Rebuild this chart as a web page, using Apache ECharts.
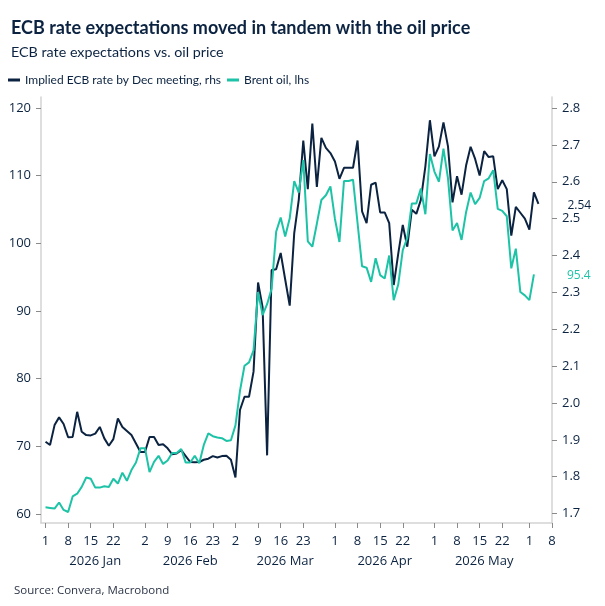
<!DOCTYPE html>
<html>
<head>
<meta charset="utf-8">
<script src="https://cdn.jsdelivr.net/npm/echarts@6/dist/echarts.min.js"></script>
<style>
  html, body { margin: 0; padding: 0; background: #fff; }
  #chart { width: 605px; height: 606px; }
</style>
</head>
<body>
<div id="chart"></div>
<script>
// x axis: business days, 31 Dec 2025 .. 8 Jun 2026
const days = []
for (let d = new Date(Date.UTC(2025, 11, 31)); d <= new Date(Date.UTC(2026, 5, 8)); d.setUTCDate(d.getUTCDate() + 1)) {
  const wd = d.getUTCDay()
  if (wd !== 0 && wd !== 6) days.push(d.toISOString().slice(0, 10))
}

// labelled ticks on the day row
const tickDays = [
  '2026-01-01', '2026-01-08', '2026-01-15', '2026-01-22',
  '2026-02-02', '2026-02-09', '2026-02-16', '2026-02-23',
  '2026-03-02', '2026-03-09', '2026-03-16', '2026-03-23',
  '2026-04-01', '2026-04-08', '2026-04-15', '2026-04-22',
  '2026-05-01', '2026-05-08', '2026-05-15', '2026-05-22',
  '2026-06-01', '2026-06-08',
]
// month row: where each month name sits, and its text
const monthDays = ['2026-01-16', '2026-02-16', '2026-03-17', '2026-04-16', '2026-05-18']
const monthNames = ['2026 Jan', '2026 Feb', '2026 Mar', '2026 Apr', '2026 May']

const leftTicks = [60, 70, 80, 90, 100, 110, 120]
const rightTicks = [1.7, 1.8, 1.9, 2.0, 2.1, 2.2, 2.3, 2.4, 2.5, 2.6, 2.7, 2.8]

// implied ECB rate (rhs), 1 Jan .. 3 Jun
const ecbRate = [
  1.895, 1.886, 1.940, 1.961, 1.943, 1.907, 1.908, 1.976, 1.922, 1.913,
  1.912, 1.917, 1.935, 1.904, 1.884, 1.902, 1.958, 1.935, 1.924, 1.913,
  1.890, 1.867, 1.867, 1.908, 1.908, 1.886, 1.888, 1.877, 1.861, 1.863,
  1.872, 1.856, 1.840, 1.839, 1.840, 1.846, 1.849, 1.856, 1.852, 1.856,
  1.857, 1.846, 1.798, 1.981, 2.017, 2.017, 2.085, 2.327, 2.260, 1.858,
  2.361, 2.363, 2.407, 2.335, 2.264, 2.461, 2.551, 2.712, 2.580, 2.758,
  2.586, 2.719, 2.692, 2.678, 2.655, 2.608, 2.638, 2.638, 2.638, 2.712,
  2.520, 2.488, 2.592, 2.598, 2.517, 2.517, 2.488, 2.320, 2.405, 2.483,
  2.424, 2.524, 2.513, 2.551, 2.642, 2.767, 2.669, 2.696, 2.761, 2.696,
  2.544, 2.615, 2.565, 2.644, 2.695, 2.662, 2.617, 2.683, 2.667, 2.669,
  2.580, 2.604, 2.580, 2.454, 2.532, 2.516, 2.500, 2.470, 2.571, 2.540,
]

// Brent oil (lhs), 1 Jan .. 2 Jun
const brentOil = [
  61.0, 60.9, 60.8, 61.7, 60.6, 60.3, 62.6, 63.0, 64.0, 65.4,
  65.2, 63.9, 63.9, 64.1, 64.0, 65.2, 64.5, 66.1, 64.9, 66.5,
  67.6, 69.7, 69.7, 66.2, 67.7, 68.6, 67.4, 67.9, 69.0, 69.0,
  69.6, 67.6, 67.6, 68.6, 67.5, 70.2, 71.9, 71.5, 71.3, 71.2,
  70.8, 70.9, 73.1, 78.2, 81.9, 82.4, 84.2, 92.8, 89.4, 91.0,
  93.3, 101.7, 103.8, 101.0, 103.7, 109.2, 107.5, 112.3, 100.3, 99.5,
  102.9, 106.4, 107.1, 108.4, 103.6, 100.2, 109.2, 109.2, 109.4, 103.0,
  96.6, 96.4, 94.3, 97.8, 95.3, 94.8, 98.2, 91.6, 93.9, 99.0,
  100.8, 105.9, 105.9, 108.1, 104.3, 113.2, 110.6, 109.1, 114.0, 109.6,
  101.9, 103.0, 100.5, 104.6, 107.5, 105.8, 106.7, 109.2, 109.6, 110.8,
  105.1, 104.8, 104.0, 96.3, 99.2, 92.8, 92.3, 91.6, 95.4,
]

const ecbName = 'Implied ECB rate by Dec meeting, rhs'
const oilName = 'Brent oil, lhs'

const navy = '#0b2341'
const teal = '#1dc3a6'
const axisGrey = '#d3d3d3'
const tickGrey = '#8a8a8a'
const font = 'Open Sans'
const headFont = 'Lato'

const legendBase = {
  top: 74,
  padding: 0,
  icon: 'rect',
  itemWidth: 12, itemHeight: 3,
  textStyle: { fontFamily: headFont, fontSize: 12, color: navy },
}

const chart = echarts.init(document.getElementById('chart'))
chart.setOption({
  animation: false,
  textStyle: { fontFamily: font },
  title: [
    {
      text: 'ECB rate expectations moved in tandem with the oil price',
      left: 6, top: 14,
      textStyle: { fontFamily: headFont, fontSize: 18, fontWeight: 'bold', color: navy },
    },
    {
      text: 'ECB rate expectations vs. oil price',
      left: 6, top: 40,
      textStyle: { fontFamily: headFont, fontSize: 14.3, fontWeight: 'normal', color: navy },
    },
    {
      text: 'Source: Convera, Macrobond',
      left: 9, top: 580,
      textStyle: { fontFamily: font, fontSize: 11.5, fontWeight: 'normal', color: '#2b3446' },
    },
  ],
  legend: [
    { ...legendBase, left: 8, data: [ecbName] },
    { ...legendBase, left: 227, data: [oilName] },
  ],
  grid: { left: 41, right: 53, top: 97, bottom: 83 },
  xAxis: [
    {
      type: 'category',
      data: days,
      boundaryGap: false,
      axisLine: { lineStyle: { color: axisGrey, width: 1.5 } },
      axisTick: {
        length: 5,
        interval: (i, v) => tickDays.includes(v),
        lineStyle: { color: tickGrey },
      },
      axisLabel: {
        interval: (i, v) => tickDays.includes(v),
        formatter: v => String(+v.slice(8)),
        color: navy, fontSize: 13, margin: 12,
      },
      splitLine: { show: false },
    },
    {
      type: 'category',
      data: days,
      position: 'bottom',
      boundaryGap: false,
      axisLine: { show: false },
      axisTick: { show: false },
      axisLabel: {
        interval: (i, v) => monthDays.includes(v),
        formatter: v => monthNames[monthDays.indexOf(v)] || '',
        color: navy, fontSize: 13, margin: 32,
      },
      splitLine: { show: false },
    },
  ],
  yAxis: [
    {
      type: 'value',
      position: 'left',
      min: 58.67, max: 121.62,
      axisLine: { show: true, lineStyle: { color: axisGrey, width: 1.5 } },
      axisTick: { show: true, length: 5, customValues: leftTicks, lineStyle: { color: tickGrey } },
      axisLabel: { customValues: leftTicks, color: navy, fontSize: 13, margin: 10 },
      splitLine: { show: false },
    },
    {
      type: 'value',
      position: 'right',
      min: 1.6745, max: 2.830,
      axisLine: { show: true, lineStyle: { color: axisGrey, width: 1.5 } },
      axisTick: { show: true, length: 5, customValues: rightTicks, lineStyle: { color: tickGrey } },
      axisLabel: {
        customValues: rightTicks,
        formatter: v => v.toFixed(1),
        color: navy, fontSize: 13, margin: 10,
      },
      splitLine: { show: false },
    },
  ],
  series: [
    {
      name: ecbName,
      type: 'line',
      yAxisIndex: 1,
      data: [null].concat(ecbRate),
      showSymbol: false,
      lineStyle: { color: navy, width: 2 },
      itemStyle: { color: navy },
      endLabel: {
        show: true,
        formatter: p => p.value.toFixed(2),
        color: navy, fontSize: 12,
        backgroundColor: '#fff',
        distance: 0,
        offset: [29, 2],
      },
    },
    {
      name: oilName,
      type: 'line',
      yAxisIndex: 0,
      data: [null].concat(brentOil),
      showSymbol: false,
      lineStyle: { color: teal, width: 2 },
      itemStyle: { color: teal },
      endLabel: {
        show: true,
        formatter: p => p.value.toFixed(1),
        color: teal, fontSize: 12,
        distance: 0,
        offset: [33, 1],
      },
    },
  ],
})
</script>
</body>
</html>
